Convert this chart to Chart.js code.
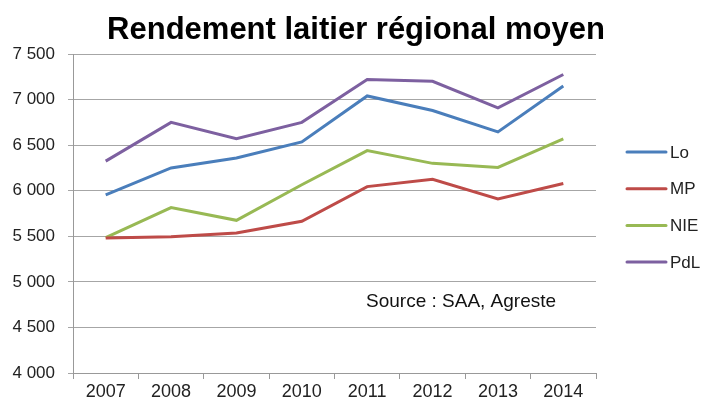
<!DOCTYPE html>
<html>
<head>
<meta charset="utf-8">
<script src="https://cdn.jsdelivr.net/npm/chart.js@4"></script>
<style>
  body { margin: 0; background: #fff; }
  canvas { display: block; }
</style>
</head>
<body>
<canvas id="rendement" width="701" height="405"></canvas>
<script>
var annees = ['2007', '2008', '2009', '2010', '2011', '2012', '2013', '2014'];
var lo  = [5955, 6250, 6360, 6535, 7040, 6880, 6645, 7150];
var mp  = [5480, 5495, 5535, 5665, 6045, 6125, 5910, 6080];
var nie = [5485, 5815, 5675, 6065, 6440, 6300, 6255, 6570];
var pdl = [6325, 6750, 6570, 6750, 7220, 7200, 6910, 7275];
var regions = ['Lo', 'MP', 'NIE', 'PdL'];
var couleurs = ['#4A7EBB', '#BE4B48', '#98B954', '#7D60A0'];
var titre = 'Rendement laitier régional moyen';
var source = 'Source : SAA, Agreste';

function milliers(v) {
  return String(v).replace(/\B(?=(\d{3})+(?!\d))/g, ' ');
}

var series = [lo, mp, nie, pdl];
var datasets = series.map(function (s, i) {
  return {
    label: regions[i],
    data: s,
    borderColor: couleurs[i],
    backgroundColor: couleurs[i],
    borderWidth: 3,
    pointRadius: 0,
    tension: 0,
    fill: false
  };
});

// titre, source et legende dessines a la main
var textesPlugin = {
  id: 'textes',
  afterDraw(chart) {
    const { ctx, chartArea: { left, right, top, bottom } } = chart;
    ctx.save();
    ctx.fillStyle = '#000';
    ctx.font = 'bold 31px "Liberation Sans"';
    ctx.textAlign = 'center';
    ctx.textBaseline = 'alphabetic';
    ctx.fillText(titre, 356, 39);

    ctx.font = '19px "Liberation Sans"';
    ctx.textAlign = 'left';
    ctx.fillStyle = '#111';
    ctx.fillText(source, 366, 307);

    ctx.font = '17px "Liberation Sans"';
    ctx.textBaseline = 'middle';
    chart.data.datasets.forEach(function (ds, i) {
      const y = 152 + i * 36.7;
      ctx.strokeStyle = ds.borderColor;
      ctx.lineWidth = 3;
      ctx.lineCap = 'round';
      ctx.beginPath();
      ctx.moveTo(627, y);
      ctx.lineTo(666, y);
      ctx.stroke();
      ctx.fillStyle = '#222';
      ctx.fillText(ds.label, 670, y + 1);
    });
    ctx.restore();
  }
};

new Chart(document.getElementById('rendement').getContext('2d'), {
  type: 'line',
  data: { labels: annees, datasets: datasets },
  options: {
    responsive: false,
    animation: false,
    layout: { padding: { top: 54, right: 105, left: 0, bottom: 0 } },
    plugins: {
      legend: { display: false },
      tooltip: { enabled: false }
    },
    scales: {
      x: {
        offset: true,
        afterFit(scale) { scale.height = 32; },
        grid: {
          offset: true,
          drawOnChartArea: false,
          drawTicks: true,
          tickLength: 6,
          color: '#999'
        },
        border: { color: '#999', width: 1 },
        ticks: {
          color: '#222',
          font: { family: 'Liberation Sans', size: 18 },
          padding: 2,
          maxRotation: 0
        }
      },
      y: {
        min: 4000,
        max: 7500,
        afterFit(scale) { scale.width = 73; },
        grid: {
          color: '#a6a6a6',
          lineWidth: 1,
          tickLength: 5
        },
        border: { color: '#999', width: 1 },
        ticks: {
          stepSize: 500,
          color: '#222',
          padding: 13,
          font: { family: 'Liberation Sans', size: 17 },
          callback: function (v) { return milliers(v); }
        }
      }
    }
  },
  plugins: [textesPlugin]
});
</script>
</body>
</html>
